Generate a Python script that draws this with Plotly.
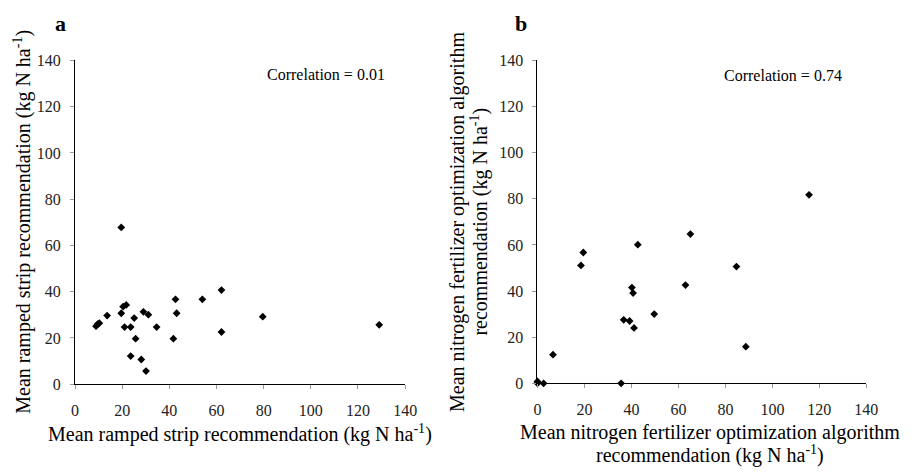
import plotly.graph_objects as go

# Panel a: ramped strip recommendations
ramp_x = [19.6, 8.9, 9.6, 10.3, 13.6, 19.6, 20.4, 21.7, 21.0, 23.6, 25.1, 25.7, 23.6,
          28.1, 30.1, 29.0, 31.1, 34.6, 41.7, 42.6, 43.1, 54.0, 62.1, 62.1, 79.6, 129.0]
ramp_y = [67.8, 25.1, 26.0, 26.4, 29.7, 30.7, 33.6, 34.3, 24.7, 24.7, 28.6, 19.7, 12.2,
          10.7, 5.7, 31.3, 30.1, 24.7, 19.7, 36.7, 30.7, 36.7, 40.7, 22.6, 29.2, 25.7]

# Panel b: nitrogen fertilizer optimization algorithm recommendations
nfoa_x = [0.0, 0.0, 0.1, 2.6, 6.6, 18.5, 19.5, 35.6, 36.7, 39.2, 40.2, 40.7, 41.1,
          42.7, 49.7, 63.0, 65.1, 84.7, 88.7, 115.6]
nfoa_y = [0.0, 0.8, 0.4, 0.0, 12.4, 51.1, 56.7, 0.0, 27.5, 27.0, 41.5, 39.1, 24.0,
          60.1, 30.0, 42.6, 64.7, 50.6, 15.9, 81.7]

tick_vals = [0, 20, 40, 60, 80, 100, 120, 140]
corr_labels = ["Correlation = 0.01", "Correlation = 0.74"]
panel_labels = ["a", "b"]

W, H = 914, 473
FONT = "Liberation Serif, Times New Roman, serif"
SUP = "<sup>-1</sup>"

def px_x(p):
    return p / W

def px_y(p):
    return 1 - p / H

fig = go.Figure()
marker = dict(symbol="diamond", size=6, color="black")
fig.add_trace(go.Scatter(x=ramp_x, y=ramp_y, mode="markers", marker=marker,
                         cliponaxis=False, xaxis="x", yaxis="y", showlegend=False))
fig.add_trace(go.Scatter(x=nfoa_x, y=nfoa_y, mode="markers", marker=marker,
                         cliponaxis=False, xaxis="x2", yaxis="y2", showlegend=False))

axis_common = dict(range=[0, 140], tickvals=tick_vals, showgrid=False, zeroline=False,
                   showline=True, linecolor="black", linewidth=1.2,
                   ticks="outside", ticklen=4, tickcolor="#999999", tickwidth=1,
                   tickfont=dict(family=FONT, size=16, color="#222222"), fixedrange=True)
x_common = dict(ticklabelstandoff=7, **axis_common)
y_common = dict(ticklabelstandoff=6, **axis_common)

fig.update_layout(
    width=W, height=H,
    font=dict(family=FONT, size=16, color="#222222"),
    margin=dict(l=0, r=0, t=0, b=0),
    paper_bgcolor="white", plot_bgcolor="white",
    xaxis=dict(domain=[px_x(72.3), px_x(408.3)], anchor="y", **x_common),
    yaxis=dict(domain=[px_y(390.3), px_y(54.3)], anchor="x", **y_common),
    xaxis2=dict(domain=[px_x(543), px_x(877.7)], anchor="y2", **x_common),
    yaxis2=dict(domain=[px_y(389.3), px_y(54.3)], anchor="x2", **y_common),
)

def ann(text, x, y, size=20, angle=0, bold=False):
    t = f"<b>{text}</b>" if bold else text
    fig.add_annotation(text=t, x=px_x(x), y=px_y(y), xref="paper", yref="paper",
                       showarrow=False, textangle=angle, xanchor="center", yanchor="middle",
                       font=dict(family=FONT, size=size, color="black"))

# axis titles
ann(f"Mean ramped strip recommendation (kg N ha{SUP})", 240, 441)
ann(f"Mean ramped strip recommendation (kg N ha{SUP})", 18, 222, angle=-90)
ann("Mean nitrogen fertilizer optimization algorithm", 719, 440)
ann(f"recommendation (kg N ha{SUP})", 719, 463)
ann("Mean nitrogen fertilizer optimization algorithm", 461, 222, angle=-90)
ann(f"recommendation (kg N ha{SUP})", 483, 222, angle=-90)

# correlation labels
ann(corr_labels[0], 328, 69, size=16)
ann(corr_labels[1], 793, 70, size=16)

# panel letters
ann(panel_labels[0], 57, 16, size=22, bold=True)
ann(panel_labels[1], 526, 16, size=22, bold=True)

fig.write_html("out.html", config={"displayModeBar": False},
               post_script="document.body.style.margin='0px';document.body.style.overflow='hidden';")
